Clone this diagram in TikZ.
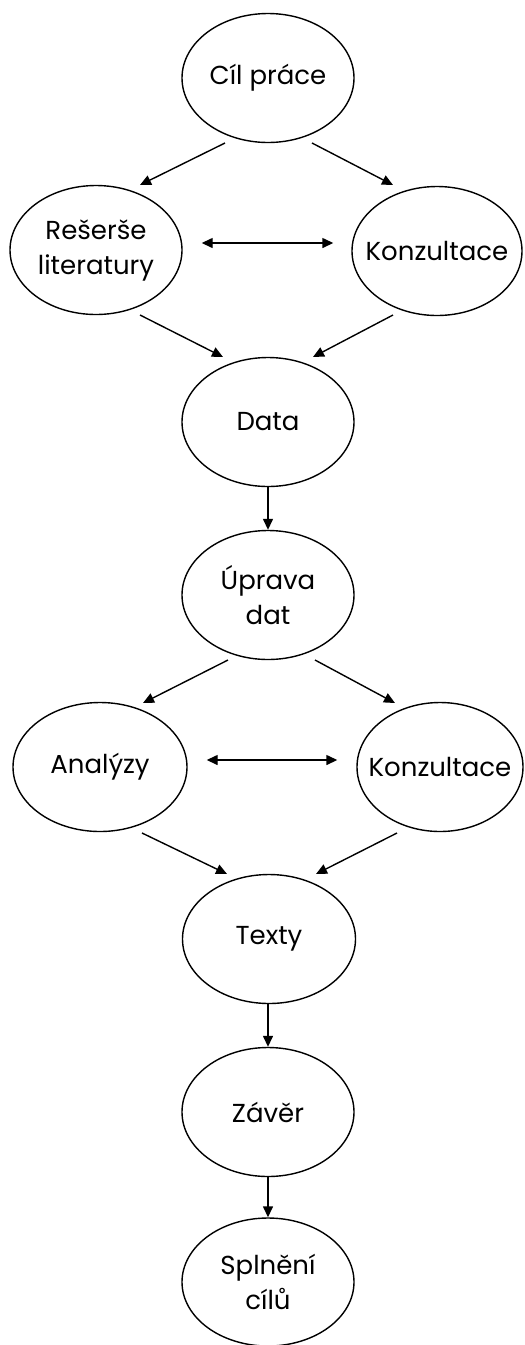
\documentclass[tikz,border=0pt]{standalone}
\usepackage{fontspec}
\setmainfont{Poppins}
\usetikzlibrary{shapes.geometric,arrows.meta,calc}
\tikzset{
  oval/.style={ellipse,draw,line width=1.4pt,inner sep=0pt,minimum width=172pt,minimum height=129pt,align=center,font=\fontsize{26}{35}\selectfont},
  arr/.style={line width=1.4pt,-{Triangle[length=11pt,width=10pt]}},
  darr/.style={line width=1.4pt,{Triangle[length=11pt,width=10pt]}-{Triangle[length=11pt,width=10pt]}}
}
\begin{document}
\begin{tikzpicture}[x=1pt,y=-1pt]
\useasboundingbox (0,0) rectangle (525,1345);
\node[oval] (cil) at (268,78) {Cíl práce};
\node[oval] (res) at (96,250) {Rešerše\\literatury};
\node[oval,minimum width=170pt] (kon1) at (437,251) {\makebox[0pt]{Konzultace}};
\node[oval] (data) at (268,422) {Data};
\node[oval] (upr) at (268,595) {Úprava\\dat};
\node[oval,minimum width=174pt] (ana) at (100,767) {Analýzy};
\node[oval,minimum width=166pt] (kon2) at (440,767) {\makebox[0pt]{Konzultace}};
\node[oval,minimum width=173pt] (tex) at (269,939) {Texty};
\node[oval] (zav) at (268,1112) {Závěr};
\node[oval,minimum height=128pt] (spl) at (268,1282) {Splnění\\cílů};

\draw[arr] ($(cil)+(-43,65)$) -- ($(res)+(44,-65)$);
\draw[arr] ($(cil)+(44,65)$) -- ($(kon1)+(-44,-66)$);
\draw[darr] ($(res.east)+(19,-7)$) -- ($(kon1.west)+(-18,-8)$);
\draw[arr] ($(res)+(44,65)$) -- ($(data)+(-45,-65)$);
\draw[arr] ($(kon1)+(-44,64)$) -- ($(data)+(45,-65)$);
\draw[arr] (data.south) -- (upr.north);
\draw[arr] ($(upr)+(-40,65)$) -- ($(ana)+(43,-64)$);
\draw[arr] ($(upr)+(47,65)$) -- ($(kon2)+(-45,-64)$);
\draw[darr] ($(ana.east)+(19,-7)$) -- ($(kon2.west)+(-19,-7)$);
\draw[arr] ($(ana)+(42,66)$) -- ($(tex)+(-42,-65)$);
\draw[arr] ($(kon2)+(-43,66)$) -- ($(tex)+(47,-65)$);
\draw[arr] (zav.north |- tex.south) -- (zav.north);
\draw[arr] (zav.south) -- (spl.north);
\end{tikzpicture}
\end{document}
